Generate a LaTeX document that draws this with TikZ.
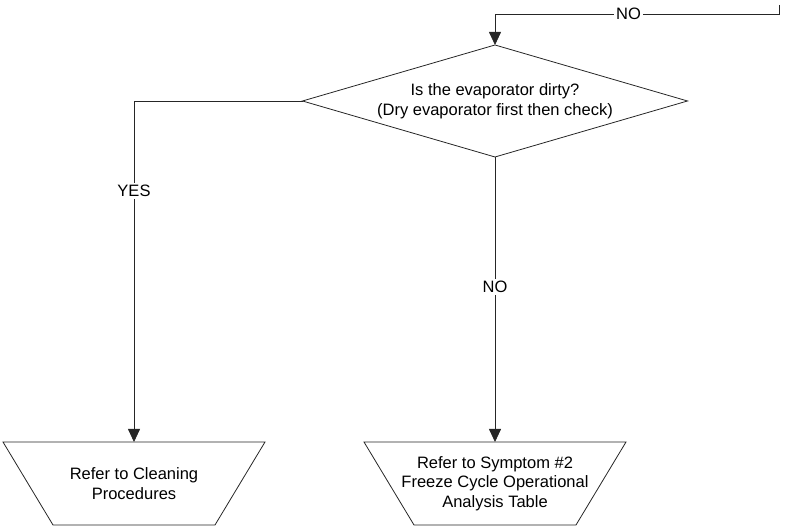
\documentclass[tikz,border=0pt]{standalone}
\usepackage{fontspec}
\setmainfont{Liberation Sans}
\usetikzlibrary{shapes.geometric,arrows.meta,positioning,calc}

\begin{document}
\begin{tikzpicture}[
            x=1pt, y=1pt,
            every node/.style={font=\fontsize{16.5}{19.5}\selectfont},
            line/.style={draw=black!85, line width=0.8pt},
            flow/.style={line, -{Triangle[width=12pt,length=13pt]}},
            decision/.style={diamond, draw=black!85, line width=0.8pt, aspect=3.44, inner sep=0pt, outer sep=0pt, minimum width=385pt, minimum height=112pt, align=center},
            endbox/.style={rectangle, inner sep=0pt, outer sep=0pt, minimum width=262pt, minimum height=83pt, align=center},
            lbl/.style={fill=white, inner sep=2pt},
        ]
            \useasboundingbox (0,0) rectangle (788,526);

            \node[decision] (dirty) at (495,425) {Is the evaporator dirty?\\(Dry evaporator first then check)};
            \node[endbox] (clean) at (134,42.5) {Refer to Cleaning\\Procedures};
            \node[endbox] (symptom) at (495,42.5) {Refer to Symptom \#2\\Freeze Cycle Operational\\Analysis Table};

            % upside-down trapezia round the two end boxes
            \foreach \n in {clean,symptom}
                \draw[line] (\n.north west) -- (\n.north east) -- ([xshift=-50pt]\n.south east) -- ([xshift=50pt]\n.south west) -- cycle;

            \coordinate (from) at (779,521);
            \coordinate (turn) at (495,512);

            \draw[flow] (from) |- node[lbl, pos=0.765] {NO} (turn) -- (dirty.north);
            \draw[flow] (dirty.west) -| node[lbl, pos=0.632] {YES} (clean.north);
            \draw[flow] (dirty.south) -- node[lbl, pos=0.456] {NO} (symptom.north);
        \end{tikzpicture}
\end{document}
